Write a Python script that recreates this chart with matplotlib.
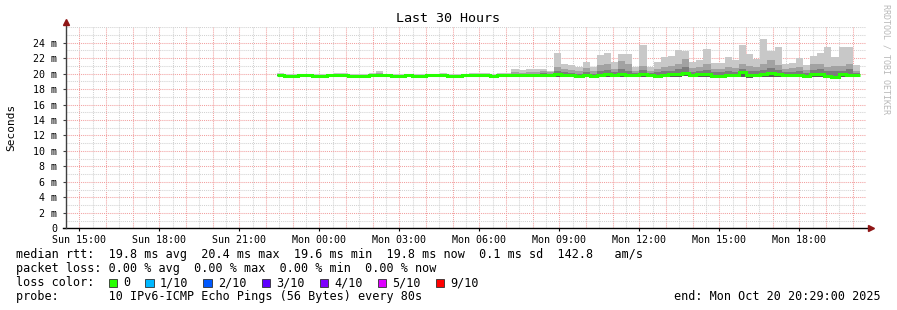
import numpy as np
import matplotlib.pyplot as plt
from matplotlib.patches import Rectangle

# time axis, hours counted from Sun 00:00
t_start = 14.4833      # Sun 14:29
t_end = 44.4833        # Mon 20:29
first_bin = 22.4       # first smokeping bin
bin_len = 16 / 60.0

tick_hours = [15, 18, 21, 24, 27, 30, 33, 36, 39, 42]
tick_labels = ["Sun 15:00", "Sun 18:00", "Sun 21:00", "Mon 00:00", "Mon 03:00",
               "Mon 06:00", "Mon 09:00", "Mon 12:00", "Mon 15:00", "Mon 18:00"]
y_ticks = [0, 2, 4, 6, 8, 10, 12, 14, 16, 18, 20, 22, 24]
y_labels = ["0", "2 m", "4 m", "6 m", "8 m", "10 m", "12 m", "14 m", "16 m",
            "18 m", "20 m", "22 m", "24 m"]

# smoke, values in ms (max ping, upper bands, median, min ping)
ping_max = [20.1, 19.95, 19.95, 20.0, 20.0, 19.95, 19.95, 20.0, 20.05, 20.05,
            19.95, 19.95, 19.95, 20.1, 20.4, 20.0, 19.95, 19.95, 20.0, 19.95,
            19.95, 20.0, 20.0, 20.1, 19.95, 19.95, 20.0, 20.1, 20.1, 20.05,
            19.95, 20.1, 20.1, 20.6, 20.5, 20.6, 20.6,
            20.6, 20.4, 22.6, 21.2, 21.1, 20.8, 21.5, 20.9, 22.4, 22.7,
            21.5, 22.5, 22.5, 20.9, 23.7, 20.9, 21.5, 22.2, 22.3, 23.1,
            22.9, 21.5, 21.7, 23.2, 21.4, 21.4, 22.2, 21.7, 23.7, 22.5,
            21.9, 24.5, 22.9, 23.5, 21.3, 21.4, 22.0, 21.1, 22.3, 22.7,
            23.5, 22.2, 23.4, 23.5, 21.1]
ping_mid = [19.95, 19.85, 19.85, 19.9, 19.9, 19.85, 19.85, 19.9, 19.95, 19.95,
            19.85, 19.85, 19.85, 19.95, 20.1, 19.9, 19.85, 19.85, 19.9, 19.85,
            19.85, 19.9, 19.9, 19.95, 19.85, 19.85, 19.9, 19.95, 19.95, 19.9,
            19.85, 19.95, 19.95, 20.2, 20.1, 20.2, 20.2,
            20.3, 20.2, 20.8, 20.6, 20.5, 20.3, 20.7, 20.3, 21.1, 21.3,
            20.6, 21.6, 21.2, 20.4, 21.0, 20.4, 20.6, 20.8, 21.0, 21.3,
            21.9, 20.7, 20.8, 21.3, 20.6, 20.6, 20.9, 20.7, 21.3, 21.0,
            20.9, 21.2, 21.7, 21.1, 20.6, 20.7, 20.8, 20.5, 21.2, 21.3,
            20.9, 21.0, 21.0, 21.3, 20.4]
ping_inner = [19.85, 19.8, 19.8, 19.85, 19.85, 19.8, 19.8, 19.85, 19.85, 19.85,
              19.8, 19.8, 19.8, 19.85, 19.95, 19.85, 19.8, 19.8, 19.85, 19.8,
              19.8, 19.85, 19.85, 19.85, 19.8, 19.8, 19.85, 19.85, 19.85, 19.85,
              19.8, 19.85, 19.85, 20.0, 20.0, 20.0, 20.0,
              20.1, 20.0, 20.3, 20.2, 20.1, 20.0, 20.2, 20.0, 20.4, 20.5,
              20.2, 20.6, 20.4, 20.1, 20.5, 20.1, 20.2, 20.3, 20.4, 20.6,
              20.9, 20.2, 20.3, 20.5, 20.2, 20.2, 20.3, 20.2, 20.6, 20.4,
              20.3, 20.5, 20.7, 20.5, 20.2, 20.2, 20.3, 20.1, 20.5, 20.6,
              20.3, 20.4, 20.4, 20.6, 20.1]
median = [19.8, 19.75, 19.75, 19.8, 19.8, 19.75, 19.75, 19.8, 19.8, 19.8,
          19.75, 19.75, 19.75, 19.8, 19.85, 19.8, 19.75, 19.75, 19.8, 19.75,
          19.75, 19.8, 19.8, 19.8, 19.75, 19.75, 19.8, 19.8, 19.8, 19.8,
          19.75, 19.8, 19.8, 19.85, 19.85, 19.85, 19.85,
          19.8, 19.8, 19.9, 19.8, 19.8, 19.7, 19.8, 19.7, 19.8, 19.9,
          19.8, 19.9, 19.8, 19.8, 19.9, 19.8, 19.7, 19.8, 19.9, 19.9,
          20.1, 19.8, 19.9, 19.9, 19.7, 19.7, 19.8, 19.8, 20.2, 19.8,
          19.8, 19.9, 20.1, 19.9, 19.8, 19.8, 19.8, 19.7, 19.9, 19.9,
          19.7, 19.6, 19.9, 19.8, 19.8]
ping_min = [19.65, 19.6, 19.6, 19.65, 19.65, 19.6, 19.6, 19.65, 19.65, 19.65,
            19.6, 19.6, 19.6, 19.65, 19.7, 19.65, 19.6, 19.6, 19.65, 19.6,
            19.6, 19.65, 19.65, 19.65, 19.6, 19.6, 19.65, 19.65, 19.65, 19.65,
            19.6, 19.65, 19.65, 19.7, 19.7, 19.7, 19.7,
            19.6, 19.6, 19.6, 19.6, 19.6, 19.5, 19.6, 19.5, 19.5, 19.6,
            19.6, 19.6, 19.5, 19.6, 19.6, 19.6, 19.5, 19.5, 19.6, 19.6,
            19.7, 19.6, 19.6, 19.6, 19.5, 19.5, 19.6, 19.6, 19.6, 19.4,
            19.6, 19.6, 19.6, 19.6, 19.6, 19.6, 19.6, 19.5, 19.6, 19.6,
            19.5, 19.4, 19.6, 19.5, 19.6]

loss_labels = ["0", "1/10", "2/10", "3/10", "4/10", "5/10", "9/10"]
loss_colors = ["#26ff00", "#00b8ff", "#0059ff", "#5e00ff", "#7e00ff", "#dd00ff", "#ff0000"]

W, H = 897, 310
mono = "DejaVu Sans Mono"

def fx(px):
    return px / W

def fy(py):
    return 1 - py / H

fig = plt.figure(figsize=(W / 100, H / 100), dpi=100)
ax = fig.add_axes([fx(65.7), fy(228.3), 800 / W, (228.3 - 27.2) / H])
ax.set_xlim(t_start, t_end)
ax.set_ylim(0, 26)
for s in ax.spines.values():
    s.set_visible(False)

# grid
dots = (0, (1, 1))
for h in np.arange(14.5, t_end, 0.5):
    if h % 1 == 0:
        ax.axvline(h, color="#f2a0a0", lw=0.75, ls=dots, zorder=1)
    else:
        ax.axvline(h, color="#d2d2d2", lw=0.75, ls=dots, zorder=1)
for v in range(1, 27):
    if v % 2 == 0 and v <= 24:
        ax.axhline(v, color="#f2a0a0", lw=0.75, ls=dots, zorder=1)
    else:
        ax.axhline(v, color="#d2d2d2", lw=0.75, ls=dots, zorder=1)

# smoke
n = len(ping_max)
edges = first_bin + bin_len * np.arange(n + 1)
ax.stairs(ping_max, edges, baseline=ping_mid, fill=True, color="#c8c8c8", zorder=2)
ax.stairs(ping_mid, edges, baseline=ping_inner, fill=True, color="#a2a2a2", zorder=2)
ax.stairs(ping_inner, edges, baseline=median, fill=True, color="#7c7c7c", zorder=2)
ax.stairs(median, edges, baseline=ping_min, fill=True, color="#5a5a5a", zorder=2)
ax.stairs(median, edges, baseline=None, color="#26ff00", lw=2.2, zorder=3)

# axes lines with arrows
ax.plot([-0.004, 1.004], [0, 0], color="#000000", lw=1, transform=ax.transAxes,
        clip_on=False, zorder=4)
ax.plot([0, 0], [0, 1.02], color="#404040", lw=1, transform=ax.transAxes,
        clip_on=False, zorder=4)
ax.plot([1.006], [0], marker=">", ms=4, color="#8f1515", transform=ax.transAxes,
        clip_on=False, zorder=5)
ax.plot([0], [1.027], marker="^", ms=4, color="#8f1515", transform=ax.transAxes,
        clip_on=False, zorder=5)

ax.set_xticks(tick_hours, tick_labels)
ax.set_yticks(y_ticks, y_labels)
ax.tick_params(axis="x", length=2, width=0.8, pad=2.5, labelsize=7.2, color="#000000")
ax.tick_params(axis="y", length=2, width=0.8, pad=4, labelsize=7.2, color="#404040")
for lab in ax.get_xticklabels() + ax.get_yticklabels():
    lab.set_family(mono)

fig.text(fx(448), fy(19), "Last 30 Hours", family=mono, fontsize=9.6,
         ha="center", va="center")
fig.text(fx(11), fy(127), "Seconds", family=mono, fontsize=8, rotation=90,
         ha="center", va="center")
fig.text(fx(886), fy(59), "RRDTOOL / TOBI OETIKER", family=mono, fontsize=6,
         rotation=270, ha="center", va="center", color="#b8b8b8")

# legend
fs = 8.5
fig.text(fx(16), fy(254.5), "median rtt:  19.8 ms avg  20.4 ms max  19.6 ms min  "
         "19.8 ms now  0.1 ms sd  142.8   am/s", family=mono, fontsize=fs, va="center")
fig.text(fx(16), fy(268.5), "packet loss: 0.00 % avg  0.00 % max  0.00 % min  "
         "0.00 % now", family=mono, fontsize=fs, va="center")
fig.text(fx(16), fy(282.5), "loss color:", family=mono, fontsize=fs, va="center")
fig.text(fx(16), fy(296.5), "probe:       10 IPv6-ICMP Echo Pings (56 Bytes) every 80s",
         family=mono, fontsize=fs, va="center")
fig.text(fx(881), fy(296.5), "end: Mon Oct 20 20:29:00 2025", family=mono,
         fontsize=fs, va="center", ha="right")

char_w = 7.1
bx = 108.5
for lab, col in zip(loss_labels, loss_colors):
    fig.patches.append(Rectangle((fx(bx), fy(287)), 8.5 / W, 8.5 / H,
                                 transform=fig.transFigure, facecolor=col,
                                 edgecolor="#303030", lw=0.6))
    fig.text(fx(bx + 14.7), fy(282.5), lab, family=mono, fontsize=fs, va="center")
    bx = bx + 14.7 + len(lab) * char_w + 15

fig.savefig("out.png", dpi=100, facecolor="white")
